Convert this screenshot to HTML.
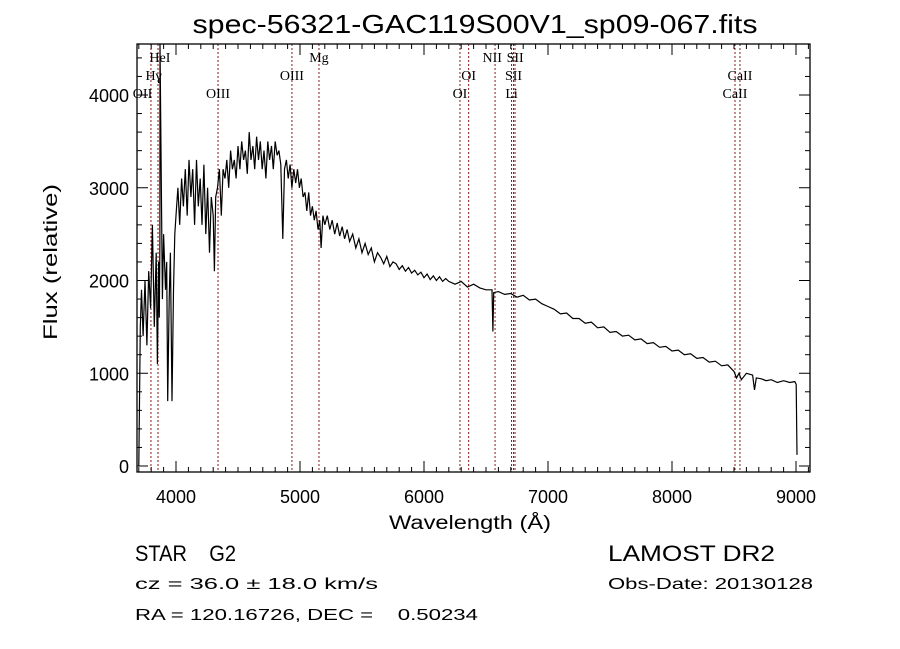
<!DOCTYPE html>
<html><head><meta charset="utf-8"><style>
html,body{margin:0;padding:0;background:#fff;}
svg{display:block;font-family:"Liberation Sans",sans-serif;}
</style></head><body>
<svg id="chart" width="900" height="649" viewBox="0 0 900 649" xmlns="http://www.w3.org/2000/svg">
<rect width="900" height="649" fill="#fff"/>
<text x="475" y="33" font-size="26" text-anchor="middle" textLength="565" lengthAdjust="spacingAndGlyphs">spec-56321-GAC119S00V1_sp09-067.fits</text>
<g id="lines"></g>
<g id="spec"></g>
<g id="axes"></g>
<text x="470" y="529" font-size="19" text-anchor="middle" textLength="162" lengthAdjust="spacingAndGlyphs">Wavelength (Å)</text>
<text transform="translate(57,262) rotate(-90)" font-size="19" text-anchor="middle" textLength="156" lengthAdjust="spacingAndGlyphs">Flux (relative)</text>
<text x="135" y="561" font-size="22" textLength="101" lengthAdjust="spacingAndGlyphs" xml:space="preserve" style="white-space:pre">STAR    G2</text>
<text x="608" y="561" font-size="22" textLength="167" lengthAdjust="spacingAndGlyphs">LAMOST DR2</text>
<text x="135" y="589" font-size="16" textLength="243" lengthAdjust="spacingAndGlyphs">cz = 36.0 ± 18.0 km/s</text>
<text x="608" y="589" font-size="16" textLength="205" lengthAdjust="spacingAndGlyphs">Obs-Date: 20130128</text>
<text x="135" y="620" font-size="16" textLength="343" lengthAdjust="spacingAndGlyphs" xml:space="preserve" style="white-space:pre">RA = 120.16726, DEC =    0.50234</text>
</svg>
<script>
const xTicks=[4000,5000,6000,7000,8000,9000];
const yTicks=[0,1000,2000,3000,4000];
const wave=[
3700,3712,3722,3735,3750,3765,3780,3795,3810,3825,
3840,3850,3860,3865,3870,3871,3890,3900,3915,3925,
3933,3945,3955,3968,3980,3990,
4000,4015,4030,4045,4060,4075,4090,4105,4120,4135,
4150,4165,4180,4195,4210,4225,4240,4255,4270,4285,
4300,4310,4320,4335,
4350,4365,4380,4395,4410,4425,4440,4455,4470,4485,
4500,4515,4530,4545,4560,4575,4590,4605,4620,4635,
4650,4665,4680,4695,4710,4725,4740,4755,4770,4785,
4800,4815,4830,4845,
4861,
4875,4890,4905,4920,4935,4950,4965,4980,4995,5010,
5025,5040,5055,5070,5085,5100,5115,5130,5145,5160,
5170,5185,
5200,5220,5240,5260,5280,5300,5320,5340,5360,5380,5400,
5425,5450,5475,5500,5525,5550,5575,5600,5625,5650,5675,5700,5725,5750,5775,5800,
5825,5850,5875,5900,5925,5950,5975,6000,6025,6050,6075,6100,6125,6150,6175,6200,
6250,6300,6350,6400,6450,6500,
6548,6556,6562,
6600,6650,6700,6750,6800,6850,6900,6950,7000,7050,
7100,7150,7200,7250,7300,7350,7400,7450,7500,7550,
7600,7650,7700,7750,7800,7850,7900,7950,8000,8050,
8100,8150,8200,8250,8300,8350,8400,8450,
8500,8520,8540,8560,8600,8650,8665,8680,8720,8760,
8800,8850,8900,8950,8990,9002,9008];
const flux=[
0,1500,1900,1400,2000,1300,2100,1700,2600,1500,
2300,1100,2200,1600,2400,4550,1800,2500,1900,2200,
700,1800,2300,700,1900,2500,
2700,3000,2600,3100,2800,3200,2700,3300,2900,3200,
2600,3300,2800,3100,2600,3250,2500,3000,2300,2900,
2700,2100,2900,3000,
3200,2700,3200,3100,3300,3000,3400,3200,3300,3100,
3450,3200,3500,3300,3400,3150,3600,3300,3450,3200,
3550,3300,3500,3200,3400,3100,3500,3300,3450,3200,
3500,3350,3400,3250,
2450,
3200,3300,3100,3250,3000,3200,3050,3200,3000,3100,
2900,2950,2750,2950,2700,2800,2650,2750,2550,2650,
2350,2700,
2600,2700,2550,2650,2500,2620,2480,2580,2450,2550,2420,
2500,2350,2450,2300,2400,2280,2350,2200,2300,2250,2180,2260,2150,2200,2180,2120,
2160,2100,2140,2080,2110,2060,2090,2030,2070,2010,2050,2000,2040,1990,2020,1990,
1960,1990,1930,1960,1920,1900,
1900,1450,1870,
1880,1850,1860,1820,1840,1790,1800,1750,1720,1690,
1640,1650,1590,1590,1540,1550,1490,1500,1440,1450,
1400,1410,1360,1370,1320,1330,1280,1290,1240,1250,
1200,1210,1160,1170,1120,1130,1080,1090,
1020,950,1000,930,1000,980,820,950,940,920,
930,900,920,900,910,880,120];
const lineWave=[3798,3855,4339,4935,5153,6290,6360,6573,6706,6722,6734,8508,8548];
const labelText=["HeI","Mg","NII","SII","Hγ","OIII","OI","SII","CaII","OII","OIII","OI","Li","CaII"];
const labelWave=[3870,5153,6550,6735,3820,4935,6360,6722,8548,3730,4339,6290,6706,8508];
const labelRow=[0,0,0,0,1,1,1,1,1,2,2,2,2,2];
const NS="http://www.w3.org/2000/svg";
const L=137,R=810,T=44,B=472;
function xs(w){return 176+(w-4000)*0.124;}
function ys(f){return 466-f*0.09275;}
function mk(tag,attrs,parent){const e=document.createElementNS(NS,tag);for(const k in attrs)e.setAttribute(k,attrs[k]);parent.appendChild(e);return e;}
const gl=document.getElementById('lines');
lineWave.forEach(w=>{const x=xs(w);
 const l=mk('line',{x1:x,x2:x,y1:T,y2:B,stroke:'#8b1a1a','stroke-width':1,'stroke-dasharray':'2,2'},gl);
 
 });
labelText.forEach((t,i)=>{
 const tx=mk('text',{x:xs(labelWave[i]),y:62+labelRow[i]*18,'font-size':14,'font-family':'"Liberation Serif",serif','text-anchor':'middle'},gl);
 tx.textContent=t;
 
 });
const gs=document.getElementById('spec');
let d='';
const n=Math.min(wave.length,flux.length);
for(let i=0;i<n;i++){let x=Math.max(L,Math.min(R,xs(wave[i])));let y=Math.max(T,Math.min(B,ys(flux[i])));d+=(i?'L':'M')+x.toFixed(1)+','+y.toFixed(1);}
const p=mk('path',{d:d,fill:'none',stroke:'#000','stroke-width':1.2},gs);


const ga=document.getElementById('axes');
const fr=mk('rect',{x:L,y:T,width:R-L,height:B-T,fill:'none',stroke:'#000','stroke-width':1.3},ga);


for(let w=3700;w<=9100;w+=100){const x=xs(w);if(x<L||x>R)continue;const maj=w%1000===0;const len=maj?11:5;
 mk('line',{x1:x,x2:x,y1:B,y2:B-len,stroke:'#000'},ga);mk('line',{x1:x,x2:x,y1:T,y2:T+len,stroke:'#000'},ga);}
for(let f=0;f<=4600;f+=200){const y=ys(f);if(y<T||y>B)continue;const maj=f%1000===0;const len=maj?11:5;
 mk('line',{x1:L,x2:L+len,y1:y,y2:y,stroke:'#000'},ga);mk('line',{x1:R,x2:R-len,y1:y,y2:y,stroke:'#000'},ga);}
xTicks.forEach(v=>{const t=mk('text',{x:xs(v),y:503,'font-size':18,'text-anchor':'middle'},ga);t.textContent=v;
 
 });
yTicks.forEach(v=>{const t=mk('text',{x:129,y:ys(v)+7,'font-size':18,'text-anchor':'end'},ga);t.textContent=v;
 
 });
</script>
</body></html>
